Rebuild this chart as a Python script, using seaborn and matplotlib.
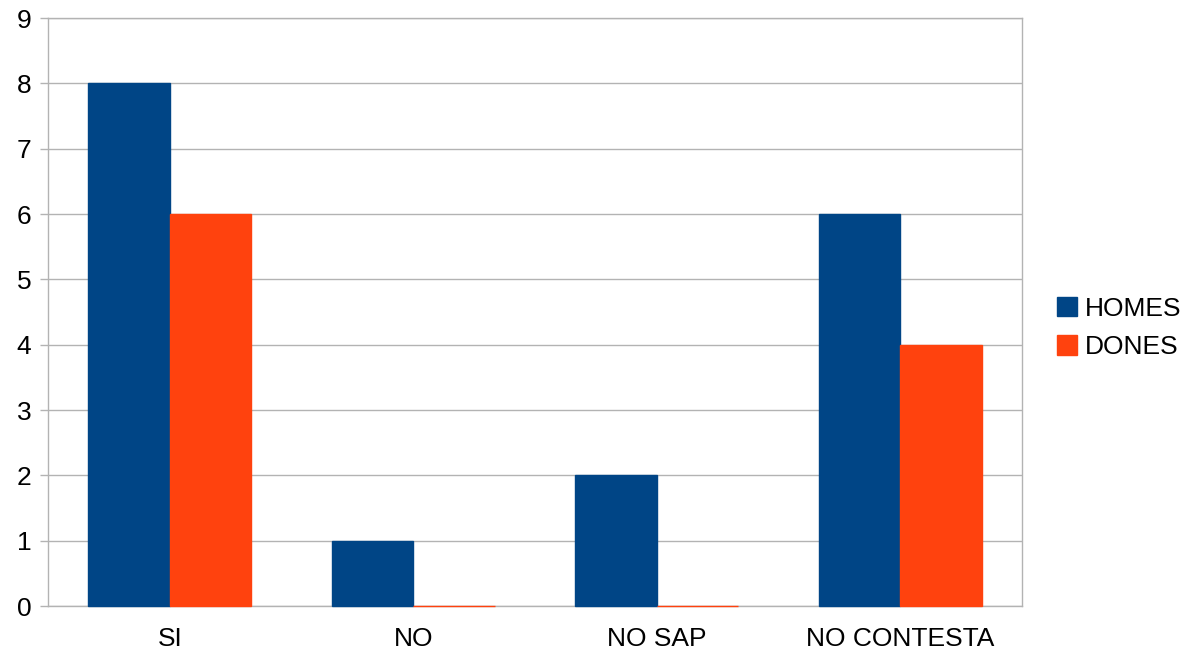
import matplotlib
matplotlib.use("Agg")
import matplotlib.pyplot as plt
import seaborn as sns
import pandas as pd
import numpy as np

categories = ["SI", "NO", "NO SAP", "NO CONTESTA"]
homes = [8, 1, 2, 6]
dones = [6, 0, 0, 4]
series_names = ["HOMES", "DONES"]
colors = ["#004586", "#FF420E"]
y_ticks = list(range(0, 10))

df = pd.DataFrame({
    "cat": categories * 2,
    "val": homes + dones,
    "serie": [series_names[0]] * len(categories) + [series_names[1]] * len(categories),
})

sns.set_style("white")
plt.rcParams["font.family"] = ["Liberation Sans", "DejaVu Sans"]
plt.rcParams["text.color"] = "black"

fig = plt.figure(figsize=(11.82, 6.55), dpi=100)
ax = fig.add_axes([48 / 1182, 1 - 606 / 655, (1022 - 48) / 1182, (606 - 18) / 655])

sns.barplot(data=df, x="cat", y="val", hue="serie", order=categories,
            hue_order=series_names, palette=colors, width=0.67,
            saturation=1, ax=ax, legend=True)

# give each bar an edge of its own colour so zero values still show as a line
for p in ax.patches:
    p.set_edgecolor(p.get_facecolor())
    p.set_linewidth(1.0)
    p.set_zorder(3)
    p.set_clip_on(False)

grid_c = "#b3b3b3"
ax.set_ylim(0, 9)
ax.set_xlim(-0.5, len(categories) - 0.5)
ax.set_yticks(y_ticks)
ax.yaxis.grid(True, color=grid_c, linewidth=1)
ax.set_axisbelow(True)
ax.set_xlabel("")
ax.set_ylabel("")

ax.set_xticks(range(len(categories)))
ax.set_xticklabels(categories)
ax.set_xticks(np.arange(-0.5, len(categories), 1.0), minor=True)
ax.tick_params(axis="x", which="major", length=0, pad=15, labelsize=19,
               labelcolor="black")
ax.tick_params(axis="x", which="minor", length=11, color=grid_c, width=1)
ax.tick_params(axis="y", which="major", length=6, color=grid_c, width=1,
               pad=6, labelsize=19, left=True, labelcolor="black")

for s in ax.spines.values():
    s.set_color(grid_c)
    s.set_linewidth(1)
    s.set_visible(True)

leg = ax.legend(loc="center left", bbox_to_anchor=(1.025, 0.473), frameon=False,
                fontsize=19, handlelength=0.75, handleheight=0.75,
                handletextpad=0.3, labelspacing=0.55, borderaxespad=0)
for t in leg.get_texts():
    t.set_color("black")

fig.savefig("out.png", dpi=100, facecolor="white")
